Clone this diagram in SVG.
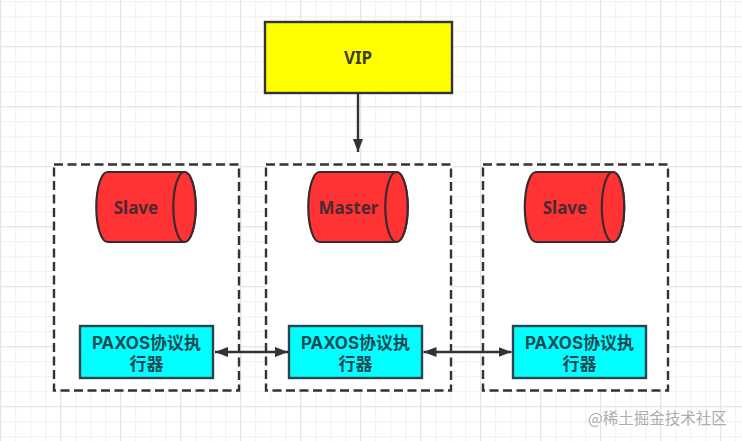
<svg xmlns="http://www.w3.org/2000/svg" width="742" height="441" viewBox="0 0 742 441">
<defs>
<pattern id="minor" width="15" height="15" patternUnits="userSpaceOnUse" x="0.2" y="1.2"><path d="M0.5 0V15M0 0.5H15" fill="none" stroke="#f0f0f0" stroke-width="1"/></pattern>
<pattern id="major" width="60" height="60" patternUnits="userSpaceOnUse" x="0.2" y="46.2"><path d="M0.5 0V60M0 0.5H60" fill="none" stroke="#e4e4e4" stroke-width="1"/></pattern>
<marker id="ah" viewBox="0 0 13 10" refX="13" refY="5" markerWidth="13" markerHeight="10" markerUnits="userSpaceOnUse" orient="auto-start-reverse"><path d="M0 0L13 5L0 10L0 0Z" fill="#333"/></marker>
</defs>
<style>
.lbl{font-family:"Noto Sans","Noto Sans CJK SC",sans-serif;font-weight:700;font-size:17px;fill:#333;text-anchor:middle}
.pt{font-family:Inter,"Noto Sans CJK SC",sans-serif;font-size:17px;fill:#1f4a55}
.cl{fill:#4a2a30}
.vt{fill:#3f3f1f}
.grp{fill:#fff;stroke:#333;stroke-width:2.400;stroke-dasharray:9 4.500}
.px{fill:#0ff;stroke:#284650;stroke-width:2.400}
.cyl{fill:#ff3333;stroke:#3a2a2e;stroke-width:2.200}
.conn{fill:none;stroke:#333;stroke-width:2.400}
.wm{font-family:"Noto Sans CJK SC","Noto Sans",sans-serif;font-size:15.500px;fill:#adadad}
</style>
<rect width="742" height="441" fill="#fff"/>
<rect width="742" height="441" fill="url(#minor)"/>
<rect width="742" height="441" fill="url(#major)"/>
<g id="group-left"><rect class="grp" x="54" y="164.500" width="185" height="226"/></g>
<g id="group-middle"><rect class="grp" x="266" y="164.500" width="185" height="226"/></g>
<g id="group-right"><rect class="grp" x="483" y="164.500" width="185" height="226"/></g>
<g id="vip"><rect x="265" y="22" width="187" height="71" fill="#ff0" stroke="#333" stroke-width="2.400"/><text class="lbl vt" x="358" y="63.500">VIP</text></g>
<g id="slave-left"><path class="cyl" d="M107.500 172H184.500C190.700 172 195.700 187.700 195.700 207S190.700 242 184.500 242H107.500C101.300 242 96.300 226.300 96.300 207S101.300 172 107.500 172Z"/><ellipse class="cyl" cx="184.500" cy="207" rx="11.200" ry="35"/><text class="lbl cl" x="136" y="213.500">Slave</text></g>
<g id="master"><path class="cyl" d="M319.500 172H396.500C402.700 172 407.700 187.700 407.700 207S402.700 242 396.500 242H319.500C313.300 242 308.300 226.300 308.300 207S313.300 172 319.500 172Z"/><ellipse class="cyl" cx="396.500" cy="207" rx="11.200" ry="35"/><text class="lbl cl" x="348.500" y="213.500">Master</text></g>
<g id="slave-right"><path class="cyl" d="M536 172H613C619.200 172 624.200 187.700 624.200 207S619.200 242 613 242H536C529.800 242 524.800 226.300 524.800 207S529.800 172 536 172Z"/><ellipse class="cyl" cx="613" cy="207" rx="11.200" ry="35"/><text class="lbl cl" x="565" y="213.500">Slave</text></g>
<g id="paxos-left"><rect class="px" x="80" y="326" width="133" height="52"/><text class="lbl pt"><tspan x="146.500" y="348.500">PAXOS协议执</tspan><tspan x="146.500" y="369.500">行器</tspan></text></g>
<g id="paxos-middle"><rect class="px" x="289" y="326" width="133" height="52"/><text class="lbl pt"><tspan x="355.500" y="348.500">PAXOS协议执</tspan><tspan x="355.500" y="369.500">行器</tspan></text></g>
<g id="paxos-right"><rect class="px" x="513" y="326" width="133" height="52"/><text class="lbl pt"><tspan x="579.500" y="348.500">PAXOS协议执</tspan><tspan x="579.500" y="369.500">行器</tspan></text></g>
<g id="connectors">
<line class="conn" x1="358" y1="93" x2="358" y2="152" marker-end="url(#ah)"/>
<line class="conn" x1="215" y1="352" x2="288" y2="352" marker-start="url(#ah)" marker-end="url(#ah)"/>
<line class="conn" x1="423.500" y1="352" x2="511.500" y2="352" marker-start="url(#ah)" marker-end="url(#ah)"/>
</g>
<text class="wm" x="588" y="424">@稀土掘金技术社区</text>
</svg>
